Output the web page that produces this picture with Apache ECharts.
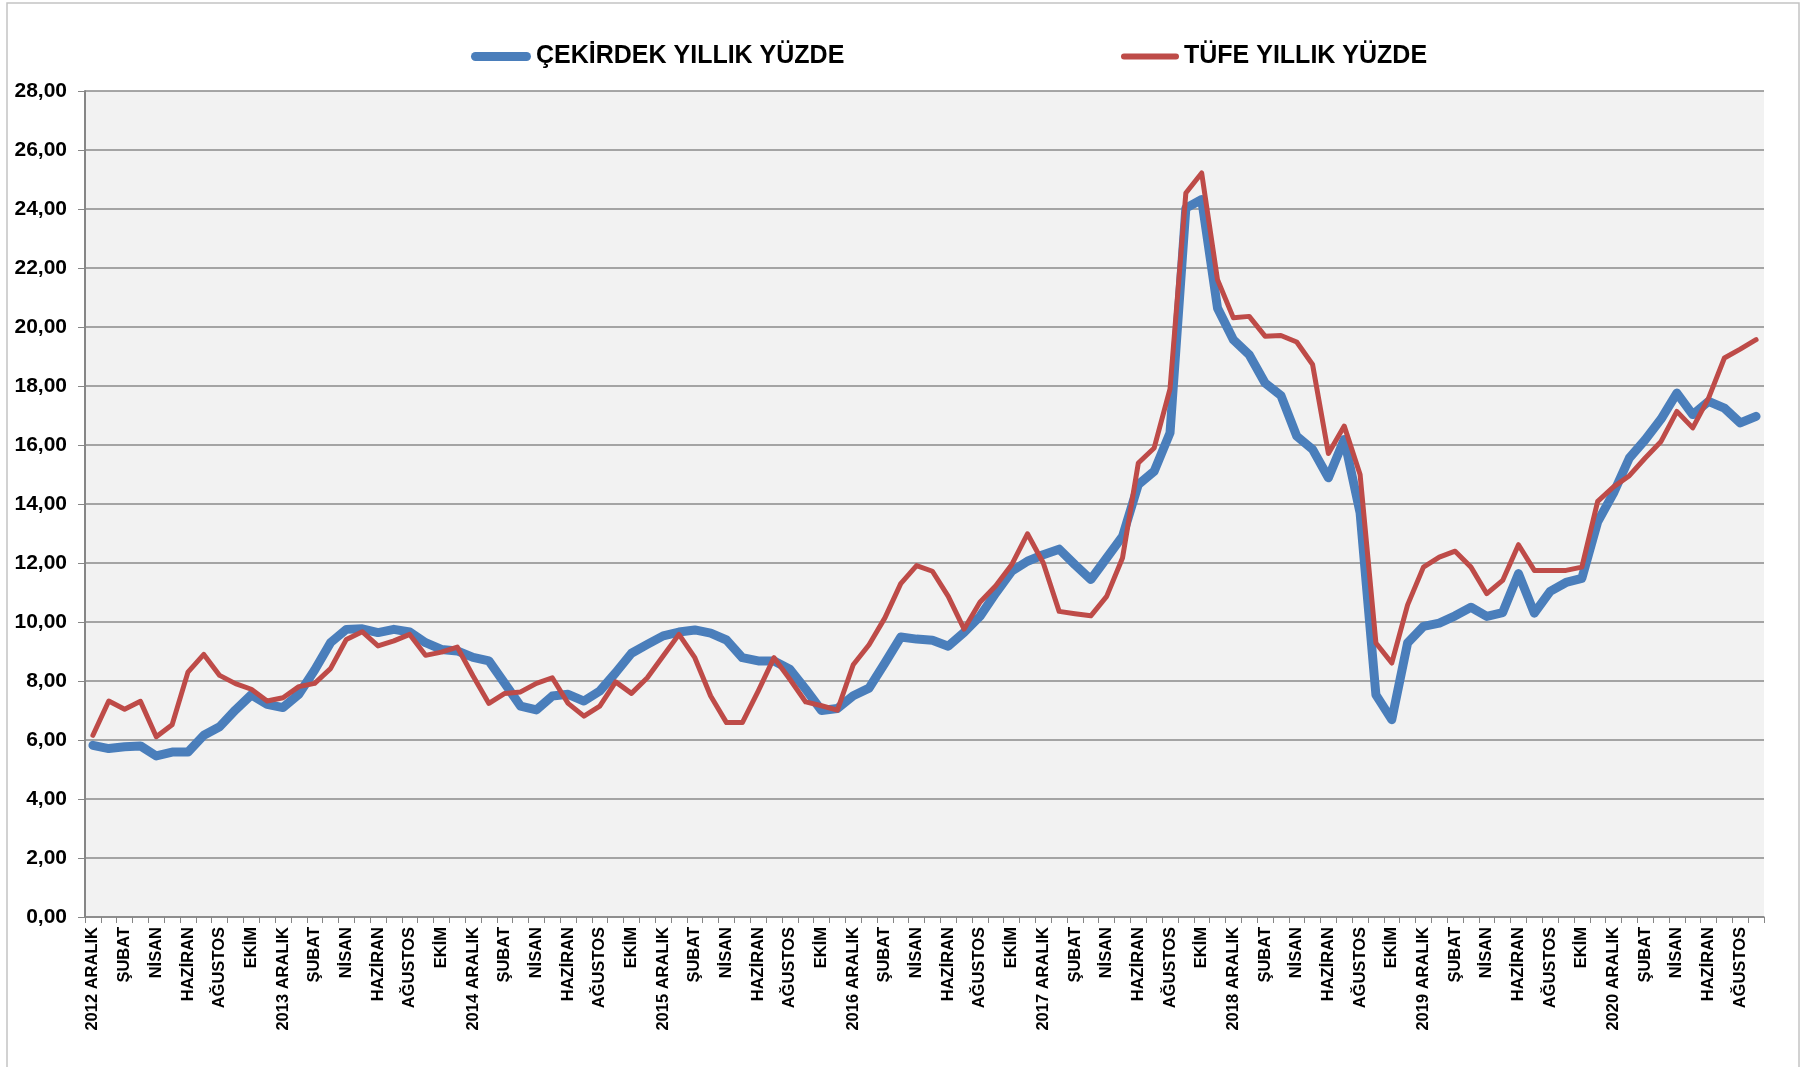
<!DOCTYPE html>
<html lang="tr">
<head>
<meta charset="UTF-8">
<title>Çekirdek ve TÜFE yıllık yüzde</title>
<script src="https://cdn.jsdelivr.net/npm/echarts@6/dist/echarts.min.js"></script>
<style>
  html, body { margin: 0; padding: 0; background: #fff; }
  #main { width: 1812px; height: 1067px; }
</style>
</head>
<body>
<div id="main"></div>
<script>
// ay isimleri, 2012 ARALIK'tan 2021 EYLÜL'e kadar aylık kategoriler
var months = ['OCAK', 'ŞUBAT', 'MART', 'NİSAN', 'MAYIS', 'HAZİRAN', 'TEMMUZ', 'AĞUSTOS', 'EYLÜL', 'EKİM', 'KASIM', 'ARALIK'];
var startYear = 2012;
var monthCount = 106;

// ÇEKİRDEK YILLIK YÜZDE
var cekirdek = [
  5.82, 5.71, 5.77, 5.80, 5.46, 5.59, 5.59, 6.16, 6.45, 7.02, 7.53, 7.21,
  7.10, 7.55, 8.37, 9.30, 9.75, 9.77, 9.64, 9.75, 9.66, 9.30, 9.07, 9.02,
  8.80, 8.68, 7.92, 7.15, 7.02, 7.49, 7.55, 7.32, 7.66, 8.28, 8.94, 9.24,
  9.53, 9.66, 9.73, 9.62, 9.39, 8.79, 8.68, 8.68, 8.40, 7.72, 7.00, 7.07,
  7.50, 7.76, 8.61, 9.49, 9.42, 9.38, 9.18, 9.65, 10.19, 10.98, 11.72, 12.06,
  12.28, 12.47, 11.94, 11.44, 12.17, 12.90, 14.66, 15.11, 16.41, 24.03, 24.32, 20.64,
  19.57, 19.06, 18.10, 17.68, 16.30, 15.85, 14.89, 16.19, 13.70, 7.53, 6.69, 9.29,
  9.85, 9.96, 10.21, 10.50, 10.19, 10.32, 11.64, 10.30, 11.04, 11.34, 11.48, 13.40,
  14.37, 15.56, 16.18, 16.88, 17.76, 17.03, 17.48, 17.25, 16.75, 16.97
];

// TÜFE YILLIK YÜZDE
var tufe = [
  6.16, 7.32, 7.04, 7.31, 6.11, 6.52, 8.30, 8.90, 8.19, 7.91, 7.72, 7.32,
  7.43, 7.81, 7.92, 8.42, 9.41, 9.67, 9.19, 9.36, 9.58, 8.87, 8.98, 9.15,
  8.17, 7.24, 7.58, 7.63, 7.92, 8.11, 7.24, 6.81, 7.15, 7.97, 7.58, 8.11,
  8.85, 9.58, 8.79, 7.49, 6.59, 6.59, 7.66, 8.79, 8.06, 7.29, 7.16, 7.01,
  8.55, 9.23, 10.14, 11.30, 11.91, 11.72, 10.87, 9.76, 10.67, 11.23, 11.94, 12.99,
  12.00, 10.36, 10.28, 10.21, 10.87, 12.17, 15.39, 15.90, 17.90, 24.54, 25.22, 21.60,
  20.31, 20.36, 19.69, 19.71, 19.49, 18.73, 15.71, 16.64, 15.00, 9.29, 8.61, 10.58,
  11.86, 12.20, 12.40, 11.86, 10.96, 11.41, 12.62, 11.75, 11.75, 11.75, 11.86, 14.09,
  14.58, 14.96, 15.56, 16.12, 17.14, 16.58, 17.59, 18.95, 19.25, 19.57
];

var yTicks = { min: 0, max: 28, step: 2 };

// kategoriler: aralık ayları yıl ile birlikte yazılıyor
var categories = [];
for (var i = 0; i < monthCount; i++) {
  var m = (11 + i) % 12;
  if (m === 11) {
    categories.push((startYear + i / 12) + ' ARALIK');
  } else {
    categories.push(months[m]);
  }
}

var FONT = "'Liberation Sans', Arial, sans-serif";

var myChart = echarts.init(document.getElementById('main'));

var option = {
  animation: false,
  backgroundColor: '#ffffff',
  graphic: [{
    type: 'rect',
    shape: { x: 7, y: 3, width: 1792, height: 1100 },
    style: { fill: 'none', stroke: '#c4c4c4', lineWidth: 1.5 },
    silent: true
  }],
  legend: [{
    left: 471,
    top: 44,
    padding: 0,
    itemWidth: 60,
    itemHeight: 9,
    selectedMode: false,
    data: [{
      name: 'ÇEKİRDEK YILLIK YÜZDE',
      icon: 'path://M4.5,0H55.5A4.5,4.5,0,0,1,55.5,9H4.5A4.5,4.5,0,0,1,4.5,0Z',
      itemStyle: { borderWidth: 0 }
    }],
    textStyle: { fontFamily: FONT, fontSize: 25, fontWeight: 'bold', color: '#000' }
  }, {
    left: 1121,
    top: 44,
    padding: 0,
    itemWidth: 58,
    itemHeight: 6,
    selectedMode: false,
    data: [{
      name: 'TÜFE YILLIK YÜZDE',
      icon: 'path://M3,0H55A3,3,0,0,1,55,6H3A3,3,0,0,1,3,0Z',
      itemStyle: { borderWidth: 0 }
    }],
    textStyle: { fontFamily: FONT, fontSize: 25, fontWeight: 'bold', color: '#000' }
  }],
  grid: {
    left: 85,
    right: 48,
    top: 91,
    bottom: 150,
    show: true,
    backgroundColor: '#f2f2f2',
    borderWidth: 0
  },
  xAxis: {
    type: 'category',
    data: categories,
    boundaryGap: true,
    axisLine: { lineStyle: { color: '#868686', width: 1.5 } },
    axisTick: { show: true, interval: 0, length: 6, lineStyle: { color: '#868686', width: 1 } },
    axisLabel: {
      interval: 1,
      rotate: 90,
      margin: 10,
      fontFamily: FONT,
      fontSize: 16.5,
      fontWeight: 'bold',
      color: '#000'
    },
    splitLine: { show: false }
  },
  yAxis: {
    type: 'value',
    min: yTicks.min,
    max: yTicks.max,
    interval: yTicks.step,
    axisLine: { show: true, lineStyle: { color: '#868686', width: 2 } },
    axisTick: { show: true, length: 7, lineStyle: { color: '#868686', width: 1 } },
    axisLabel: {
      margin: 18,
      fontFamily: FONT,
      fontSize: 21,
      fontWeight: 'bold',
      color: '#000',
      formatter: function (v) { return v.toFixed(2).replace('.', ','); }
    },
    splitLine: { lineStyle: { color: '#8a8a8a', width: 1.5 } }
  },
  series: [{
    name: 'ÇEKİRDEK YILLIK YÜZDE',
    type: 'line',
    data: cekirdek,
    showSymbol: false,
    symbol: 'none',
    color: '#4a7ebb',
    lineStyle: { width: 9, color: '#4a7ebb', cap: 'round', join: 'round' },
    z: 2
  }, {
    name: 'TÜFE YILLIK YÜZDE',
    type: 'line',
    data: tufe,
    showSymbol: false,
    symbol: 'none',
    color: '#be4b48',
    lineStyle: { width: 5, color: '#be4b48', cap: 'round', join: 'round' },
    z: 3
  }]
};

myChart.setOption(option);
</script>
</body>
</html>
